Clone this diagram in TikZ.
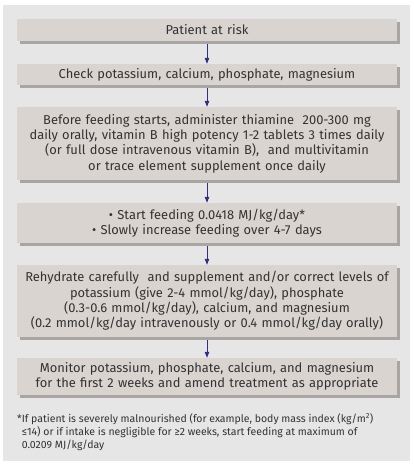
\documentclass[tikz,border=0pt]{standalone}
\usepackage{fontspec}
\setmainfont{Fira Sans}
\usetikzlibrary{arrows.meta,shadows}
\definecolor{panelgray}{HTML}{E6E6E6}
\definecolor{boxgray}{HTML}{D9D4D0}
\definecolor{shadegray}{HTML}{A9A5A3}
\definecolor{arrowblue}{HTML}{2E2F86}
\definecolor{textgray}{HTML}{333333}
\begin{document}
\begin{tikzpicture}[x=1pt, y=-1pt, >={Triangle[length=6pt,width=4.5pt]},
    stepbox/.style={fill=boxgray, minimum width=380pt, text width=376pt,
        align=center, inner sep=0pt, text=textgray, font=\fontsize{12.9}{15.4}\selectfont,
        copy shadow={shadow xshift=3pt, shadow yshift=-3pt, fill=shadegray, draw=none}},
    flow/.style={->, arrowblue, line width=0.8pt, shorten <=3pt}]
    \useasboundingbox (0,0) rectangle (413,468);
    % panel
    \fill[panelgray] (3,5) rectangle (410,461);

    % steps
    \node[stepbox, minimum height=22pt] (risk) at (207,30) {Patient at risk};
    \node[stepbox, minimum height=21pt] (check) at (207,74.5)
        {Check potassium, calcium, phosphate, magnesium};
    \node[stepbox, minimum height=73pt] (thiamine) at (207,143.5)
        {Before feeding starts, administer thiamine\ \ 200-300 mg\\
         daily orally, vitamin B high potency 1-2 tablets 3 times daily\\
         (or full dose intravenous vitamin B),\ \ and multivitamin\\
         or trace element supplement once daily};
    \node[stepbox, minimum height=40pt] (feed) at (207,223)
        {\textbullet\ Start feeding 0.0418 MJ/kg/day*\\
         \textbullet\ Slowly increase feeding over 4-7 days};
    \node[stepbox, minimum height=72pt] (rehyd) at (207,301)
        {Rehydrate carefully\ \ and supplement and/or correct levels of\\
         potassium (give 2-4 mmol/kg/day), phosphate\\
         (0.3-0.6 mmol/kg/day), calcium, and magnesium\\
         (0.2 mmol/kg/day intravenously or 0.4 mmol/kg/day orally)};
    \node[stepbox, minimum height=37pt] (monitor) at (207,376.5)
        {Monitor potassium, phosphate, calcium, and magnesium\\
         for the first 2 weeks and amend treatment as appropriate};

    % arrows
    \draw[flow] (risk) -- (check);
    \draw[flow] (check) -- (thiamine);
    \draw[flow] (thiamine) -- (feed);
    \draw[flow] (feed) -- (rehyd);
    \draw[flow] (rehyd) -- (monitor);

    % footnote
    \node[anchor=north west, inner sep=0pt, align=left, text=textgray,
        font=\fontsize{10.5}{13}\selectfont] (note) at (17,413)
        {*If patient is severely malnourished (for example, body mass index (kg/m\textsuperscript{2})\\
         \phantom{*}≤14) or if intake is negligible for ≥2 weeks, start feeding at maximum of\\
         \phantom{*}0.0209 MJ/kg/day};
\end{tikzpicture}
\end{document}
